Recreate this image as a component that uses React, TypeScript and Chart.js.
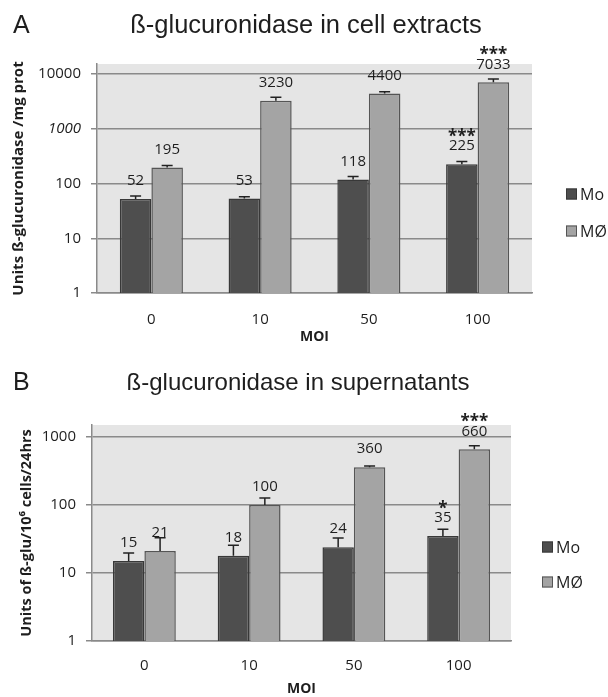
import React, { useEffect, useRef } from 'react';
import { Chart, registerables } from 'chart.js';

Chart.register(...registerables);

// ---------- data ----------
const moiLabels = ['0', '10', '50', '100'];
const seriesNames = ['Mo', 'MØ'];

const yTicksA = [1, 10, 100, 1000, 10000];
const moA = [52, 53, 118, 225];
const mphiA = [195, 3230, 4400, 7033];
const moErrA = [7, 4, 16, 27];
const mphiErrA = [18, 520, 350, 1070];
const moStarsA = ['', '', '', '***'];
const mphiStarsA = ['', '', '', '***'];

const yTicksB = [1, 10, 100, 1000];
const moB = [15, 18, 24, 35];
const mphiB = [21, 100, 360, 660];
const moErrB = [4.7, 7.5, 8.7, 9];
const mphiErrB = [12, 27, 15, 80];
const moStarsB = ['', '', '', '*'];
const mphiStarsB = ['', '', '', '***'];

// ---------- styles ----------
const MO_FILL = '#4e4e4e';
const MO_BORDER = '#383838';
const MP_FILL = '#a4a4a4';
const MP_BORDER = '#555555';
const GRID = '#8a8a8a';
const PLOT_BG = '#e5e5e5';
const TEXT = '#1e1e1e';
const SANS = '"Open Sans", sans-serif';
const ARIAL = '"Liberation Sans", Arial, sans-serif';

type PanelCfg = {
  letter: string;
  title: string;
  titleSize: number;
  titleX: number;
  titleY: number;
  yTitle: string;
  yTitleSize: number;
  yTitlePad: number;
  xTickPad: number;
  top: number;
  h: number;
  padTop: number;
  padRight: number;
  yWidth: number;
  xHeight: number;
  yMax: number;
  ticks: number[];
  italic1000: boolean;
  catPct: number;
  mo: number[];
  mphi: number[];
  moErr: number[];
  mphiErr: number[];
  moStars: string[];
  mphiStars: string[];
  legendX: number;
  legendY: number[];
};

const panels: PanelCfg[] = [
  {
    letter: 'A',
    title: 'ß-glucuronidase in cell extracts',
    titleSize: 25.5,
    titleX: 306,
    titleY: 33,
    yTitle: 'Units ß-glucuronidase /mg prot',
    yTitleSize: 15,
    yTitlePad: 10,
    xTickPad: 18,
    top: 0,
    h: 345,
    padTop: 64,
    padRight: 76,
    yWidth: 97,
    xHeight: 52,
    yMax: 15230,
    ticks: yTicksA,
    italic1000: true,
    catPct: 0.58,
    mo: moA,
    mphi: mphiA,
    moErr: moErrA,
    mphiErr: mphiErrA,
    moStars: moStarsA,
    mphiStars: mphiStarsA,
    legendX: 566,
    legendY: [194, 231],
  },
  {
    letter: 'B',
    title: 'ß-glucuronidase in supernatants',
    titleSize: 24,
    titleX: 298,
    titleY: 45,
    yTitle: 'Units of ß-glu/10⁶ cells/24hrs',
    yTitleSize: 14.5,
    yTitlePad: 18,
    xTickPad: 16,
    top: 345,
    h: 352,
    padTop: 80,
    padRight: 97,
    yWidth: 92,
    xHeight: 56,
    yMax: 1500,
    ticks: yTicksB,
    italic1000: false,
    catPct: 0.6,
    mo: moB,
    mphi: mphiB,
    moErr: moErrB,
    mphiErr: mphiErrB,
    moStars: moStarsB,
    mphiStars: mphiStarsB,
    legendX: 542,
    legendY: [202, 237],
  },
];

function makePlugin(cfg: PanelCfg) {
  const errs = [cfg.moErr, cfg.mphiErr];
  const vals = [cfg.mo, cfg.mphi];
  const stars = [cfg.moStars, cfg.mphiStars];
  return {
    id: 'panelDeco' + cfg.letter,
    beforeDraw(chart: any) {
      const { ctx, chartArea: a } = chart;
      ctx.save();
      ctx.fillStyle = PLOT_BG;
      ctx.fillRect(a.left, a.top, a.right - a.left, a.bottom - a.top);
      ctx.restore();
    },
    afterDatasetsDraw(chart: any) {
      const { ctx } = chart;
      const y = chart.scales.y;
      ctx.save();
      for (let d = 0; d < 2; d++) {
        const meta = chart.getDatasetMeta(d);
        meta.data.forEach((bar: any, i: number) => {
          const v = vals[d][i];
          const yTop = y.getPixelForValue(v);
          const yErr = y.getPixelForValue(v + errs[d][i]);
          ctx.strokeStyle = '#222';
          ctx.lineWidth = 1.5;
          ctx.beginPath();
          ctx.moveTo(bar.x, yTop);
          ctx.lineTo(bar.x, yErr);
          ctx.moveTo(bar.x - 5.5, yErr);
          ctx.lineTo(bar.x + 5.5, yErr);
          ctx.stroke();

          const ly = yTop - 18;
          ctx.fillStyle = TEXT;
          ctx.textAlign = 'center';
          ctx.textBaseline = 'middle';
          ctx.font = `15px ${SANS}`;
          ctx.fillText(String(v), bar.x, ly);
          const s = stars[d][i];
          if (s) {
            ctx.font = `bold 17px ${SANS}`;
            ctx.textBaseline = 'alphabetic';
            ctx.fillText(s, bar.x, ly - 13 + 9);
          }
        });
      }
      ctx.restore();
    },
    afterDraw(chart: any) {
      const { ctx } = chart;
      ctx.save();
      ctx.fillStyle = TEXT;
      ctx.textBaseline = 'alphabetic';
      ctx.textAlign = 'left';
      ctx.font = `25px ${ARIAL}`;
      ctx.fillText(cfg.letter, 13, cfg.titleY);
      ctx.textAlign = 'center';
      ctx.font = `${cfg.titleSize}px ${ARIAL}`;
      ctx.fillText(cfg.title, cfg.titleX, cfg.titleY);

      // legend
      const fills = [MO_FILL, MP_FILL];
      const borders = [MO_BORDER, MP_BORDER];
      seriesNames.forEach((name, k) => {
        const cy = cfg.legendY[k];
        ctx.fillStyle = fills[k];
        ctx.fillRect(cfg.legendX, cy - 5.5, 11, 11);
        ctx.strokeStyle = borders[k];
        ctx.lineWidth = 1;
        ctx.strokeRect(cfg.legendX + 0.5, cy - 5, 10, 10);
        ctx.fillStyle = TEXT;
        ctx.textAlign = 'left';
        ctx.textBaseline = 'middle';
        ctx.font = `16px ${SANS}`;
        ctx.fillText(name, cfg.legendX + 14, cy + 1);
      });
      ctx.restore();
    },
  };
}

function Panel({ cfg }: { cfg: PanelCfg }) {
  const ref = useRef<HTMLCanvasElement>(null);
  useEffect(() => {
    const chart = new Chart(ref.current as HTMLCanvasElement, {
      type: 'bar',
      data: {
        labels: moiLabels,
        datasets: [
          {
            label: seriesNames[0],
            data: cfg.mo,
            backgroundColor: MO_FILL,
            borderColor: MO_BORDER,
            borderWidth: 1.5,
            categoryPercentage: cfg.catPct,
            barPercentage: 1,
          },
          {
            label: seriesNames[1],
            data: cfg.mphi,
            backgroundColor: MP_FILL,
            borderColor: MP_BORDER,
            borderWidth: 1.5,
            categoryPercentage: cfg.catPct,
            barPercentage: 1,
          },
        ],
      },
      options: {
        responsive: false,
        animation: false,
        layout: { padding: { left: 0, right: cfg.padRight, top: cfg.padTop, bottom: 0 } },
        plugins: {
          legend: { display: false },
          title: { display: false },
          tooltip: { enabled: false },
        },
        scales: {
          x: {
            type: 'category',
            grid: { display: false, drawTicks: false },
            border: { display: true, color: GRID, width: 1.5 },
            ticks: { color: TEXT, font: { family: SANS, size: 15 }, padding: cfg.xTickPad },
            title: {
              display: true,
              text: 'MOI',
              color: TEXT,
              font: { family: SANS, size: 14, weight: 'bold' },
              padding: { top: 0, bottom: 0 },
            },
            afterFit: (s: any) => {
              s.height = cfg.xHeight;
            },
          },
          y: {
            type: 'logarithmic',
            min: 1,
            max: cfg.yMax,
            afterBuildTicks: (s: any) => {
              s.ticks = cfg.ticks.map((v) => ({ value: v }));
            },
            grid: { color: GRID, lineWidth: 1.5, tickLength: 6, drawTicks: true },
            border: { display: true, color: GRID, width: 1.5 },
            ticks: {
              autoSkip: false,
              padding: 10,
              color: TEXT,
              callback: (v: any) => String(v),
              font: (c: any) => ({
                family: SANS,
                size: 15,
                style: cfg.italic1000 && c.tick && c.tick.value === 1000 ? 'italic' : 'normal',
              }),
            },
            title: {
              display: true,
              text: cfg.yTitle,
              color: TEXT,
              font: { family: SANS, size: cfg.yTitleSize, weight: 'bold' },
              padding: { top: cfg.yTitlePad, bottom: 0 },
            },
            afterFit: (s: any) => {
              s.width = cfg.yWidth;
            },
          },
        },
      },
      plugins: [makePlugin(cfg)],
    } as any);
    return () => chart.destroy();
  }, []);
  return (
    <canvas
      ref={ref}
      width={608}
      height={cfg.h}
      style={{ position: 'absolute', left: 0, top: cfg.top, width: 608, height: cfg.h }}
    />
  );
}

export default function App() {
  return (
    <div style={{ position: 'absolute', left: 0, top: 0, width: 608, height: 697, overflow: 'hidden' }}>
      {panels.map((p) => (
        <Panel key={p.letter} cfg={p} />
      ))}
    </div>
  );
}
